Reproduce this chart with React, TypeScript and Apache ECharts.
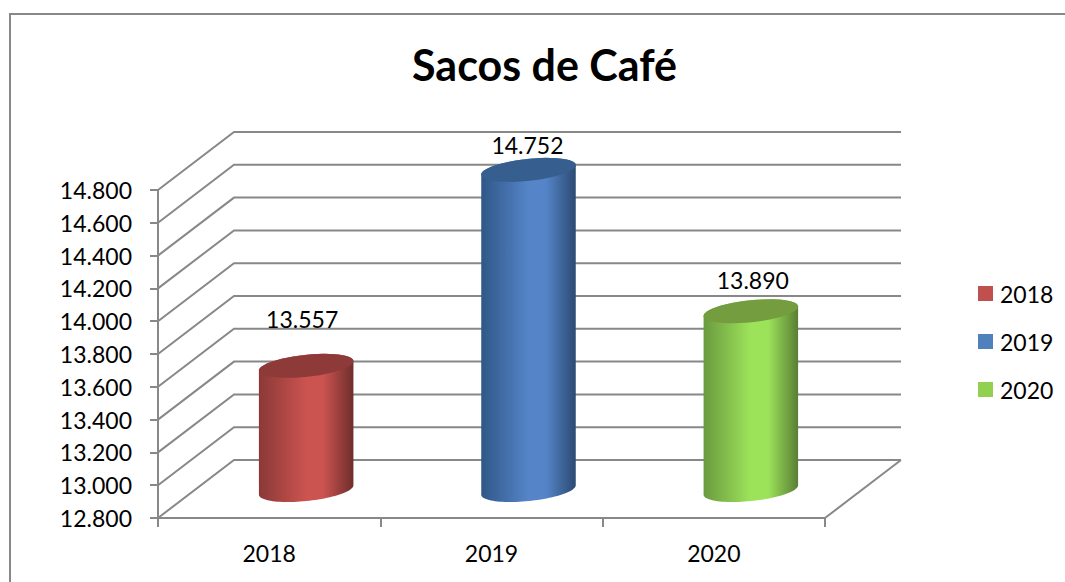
import React, { useEffect, useRef } from "react";
import * as echarts from "echarts";

const title = "Sacos de Café";
const categories = ["2018", "2019", "2020"];
const values = [13557, 14752, 13890];
const yTicks = [12800, 13000, 13200, 13400, 13600, 13800, 14000, 14200, 14400, 14600, 14800];
const legendColors = ["#c0504d", "#4f81bd", "#92d050"];
const sideLeft = ["#8a3937", "#2f5788", "#6a9a3f"];
const sideMid = ["#cb5350", "#5585c8", "#9de35a"];
const sideRight = ["#6e2e2c", "#2c4a73", "#587f34"];
const topColors = ["#8e3a38", "#365f90", "#749d40"];
const labelShift = [[-4, -47], [-1, -25], [2, -31]];

const DEPTH_X = 76;
const DEPTH_Y = -58;
const RX = 47.5;
const RY = 11;
const TILT = (6 * Math.PI) / 180;
const GREY = "#888888";
const FONT = "Lato";
const FS = 23;

const fmt = (v: number) => {
  const s = String(v);
  return s.slice(0, s.length - 3) + "." + s.slice(s.length - 3);
};

function gridRender(params: any, api: any) {
  const y = api.coord([0, api.value(1)])[1];
  const x0 = params.coordSys.x;
  const x1 = x0 + params.coordSys.width;
  const children: any[] = [
    {
      type: "polyline",
      shape: { points: [[x0, y], [x0 + DEPTH_X, y + DEPTH_Y], [x1 + DEPTH_X, y + DEPTH_Y]] },
      style: { stroke: GREY, lineWidth: 2, fill: "none" },
    },
  ];
  if (params.dataIndex === 0) {
    children.push({
      type: "line",
      shape: { x1, y1: y, x2: x1 + DEPTH_X, y2: y + DEPTH_Y },
      style: { stroke: GREY, lineWidth: 2 },
    });
  }
  return { type: "group", children };
}

// one point on the tilted ellipse that forms the cylinder's end
const pt = (cx: number, cy: number, t: number) => [
  cx + RX * Math.cos(t) * Math.cos(TILT) + RY * Math.sin(t) * Math.sin(TILT),
  cy - RX * Math.cos(t) * Math.sin(TILT) + RY * Math.sin(t) * Math.cos(TILT),
];

function arcPts(cx: number, cy: number, from: number, to: number) {
  const out: number[][] = [];
  const n = 48;
  for (let k = 0; k <= n; k++) out.push(pt(cx, cy, from + ((to - from) * k) / n));
  return out;
}

const toPath = (pts: number[][]) =>
  pts.map((p, k) => `${k ? "L" : "M"} ${p[0].toFixed(2)} ${p[1].toFixed(2)}`).join(" ") + " Z";

function cylinder(i: number) {
  return (params: any, api: any) => {
    const cat = api.value(0);
    const val = api.value(1);
    const base = api.coord([cat, yTicks[0]]);
    const top = api.coord([cat, val]);
    const cx = base[0] + DEPTH_X / 2 - 1;
    const by = base[1] + DEPTH_Y / 2 + 1;
    const ty = top[1] + DEPTH_Y / 2 + 1;
    const t0 = Math.atan((RY * Math.tan(TILT)) / RX);
    // lower half of the bottom end, then the upper half of the top end
    const body = toPath([
      ...arcPts(cx, by, Math.PI + t0, t0),
      ...arcPts(cx, ty, t0, -Math.PI + t0),
    ]);
    const cap = toPath(arcPts(cx, ty, 0, Math.PI * 2));
    const gradient = new echarts.graphic.LinearGradient(0, 0, 1, 0, [
      { offset: 0, color: sideLeft[i] },
      { offset: 0.5, color: sideMid[i] },
      { offset: 0.68, color: sideMid[i] },
      { offset: 1, color: sideRight[i] },
    ]);
    return {
      type: "group",
      children: [
        { type: "path", shape: { pathData: body }, style: { fill: gradient } },
        { type: "path", shape: { pathData: cap }, style: { fill: topColors[i] } },
        {
          type: "text",
          style: {
            text: fmt(val),
            x: cx + labelShift[i][0],
            y: ty + labelShift[i][1],
            align: "center",
            verticalAlign: "middle",
            fill: "#000",
            font: `${FS}px ${FONT}`,
          },
        },
      ],
    };
  };
}

export default function App() {
  const ref = useRef<HTMLDivElement>(null);
  useEffect(() => {
    document.body.style.margin = "0";
    const chart = echarts.init(ref.current!, undefined, { renderer: "svg" });
    chart.setOption({
      animation: false,
      backgroundColor: "#fff",
      title: {
        text: title,
        left: 544.5,
        top: 43,
        padding: 0,
        textAlign: "center",
        textStyle: { fontFamily: FONT, fontWeight: "bold", fontSize: 43, color: "#000" },
      },
      legend: {
        data: categories,
        orient: "vertical",
        left: 978,
        top: 282,
        padding: 0,
        itemWidth: 15,
        itemHeight: 15,
        itemGap: 25,
        icon: "rect",
        textStyle: { fontFamily: FONT, fontSize: FS, color: "#000", padding: [0, 0, 0, 2] },
        selectedMode: false,
      },
      graphic: [
        {
          type: "rect",
          shape: { x: 10, y: 14, width: 1100, height: 620 },
          style: { stroke: GREY, lineWidth: 2, fill: "none" },
          z: -1,
        },
      ],
      grid: { left: 158, top: 190, width: 667, height: 328 },
      xAxis: {
        type: "category",
        data: categories,
        axisLine: { lineStyle: { color: GREY, width: 2 } },
        axisTick: { show: true, length: 9, lineStyle: { color: GREY, width: 2 } },
        axisLabel: { color: "#000", fontFamily: FONT, fontSize: FS, margin: 23 },
      },
      yAxis: {
        type: "value",
        min: 12800,
        max: 14800,
        interval: 200,
        splitLine: { show: false },
        axisLine: { show: true, lineStyle: { color: GREY, width: 2 } },
        axisTick: { show: true, length: 8, lineStyle: { color: GREY, width: 2 } },
        axisLabel: { color: "#000", fontFamily: FONT, fontSize: FS, margin: 26, formatter: (v: number) => fmt(v) },
      },
      series: [
        {
          type: "custom",
          name: "grid",
          renderItem: gridRender,
          data: yTicks.map((t) => [0, t]),
          encode: { x: 0, y: 1 },
          z: 1,
          silent: true,
          clip: false,
        },
        ...categories.map((name, i) => ({
          type: "custom",
          name,
          renderItem: cylinder(i),
          data: [[i, values[i]]],
          encode: { x: 0, y: 1 },
          itemStyle: { color: legendColors[i] },
          z: 2 + i,
          clip: false,
        })),
      ],
    });
    return () => chart.dispose();
  }, []);
  return <div ref={ref} style={{ position: "fixed", left: 0, top: 0, width: 1065, height: 582 }} />;
}
